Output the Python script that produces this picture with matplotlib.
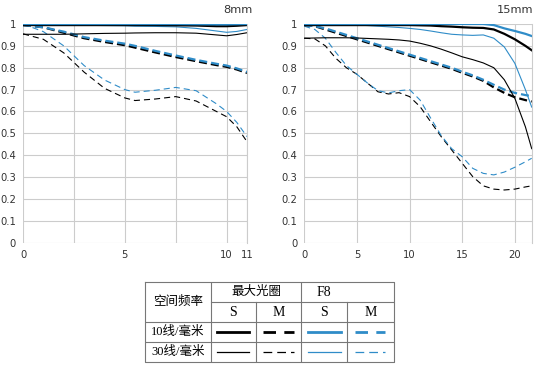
import numpy as np
import matplotlib.pyplot as plt

# MTF data, 8mm
x8 = [0, 1, 2, 3, 4, 5, 5.5, 6.5, 7.5, 8.5, 9.5, 10, 10.5, 11]
s10_max_8 = [0.995, 0.995, 0.995, 0.995, 0.995, 0.995, 0.995, 0.995, 0.994, 0.993, 0.99, 0.99, 0.992, 0.995]
s10_f8_8 = [1.0, 1.0, 1.0, 1.0, 1.0, 1.0, 1.0, 1.0, 1.0, 0.999, 0.998, 0.998, 0.999, 1.0]
s30_max_8 = [0.953, 0.953, 0.953, 0.955, 0.957, 0.958, 0.959, 0.96, 0.96, 0.958, 0.95, 0.946, 0.952, 0.96]
s30_f8_8 = [1.0, 0.998, 0.996, 0.994, 0.993, 0.992, 0.99, 0.989, 0.987, 0.98, 0.968, 0.962, 0.966, 0.975]
m10_max_8 = [0.995, 0.985, 0.96, 0.935, 0.918, 0.903, 0.892, 0.87, 0.849, 0.83, 0.812, 0.804, 0.792, 0.776]
m10_f8_8 = [0.995, 0.985, 0.965, 0.94, 0.924, 0.91, 0.9, 0.877, 0.856, 0.836, 0.818, 0.81, 0.797, 0.781]
m30_max_8 = [0.955, 0.93, 0.868, 0.78, 0.706, 0.662, 0.65, 0.657, 0.668, 0.648, 0.6, 0.576, 0.53, 0.462]
m30_f8_8 = [1.0, 0.965, 0.9, 0.81, 0.744, 0.70, 0.688, 0.697, 0.71, 0.695, 0.635, 0.60, 0.55, 0.485]

# MTF data, 15mm
x15 = [0, 1, 2, 3, 4, 5, 6, 7, 8, 9, 10, 11, 12, 13, 14, 15, 16, 17, 18, 19, 20, 21, 21.6]
s10_max_15 = [0.995, 0.995, 0.995, 0.995, 0.995, 0.995, 0.995, 0.995, 0.995, 0.995, 0.995, 0.994, 0.993,
              0.99, 0.988, 0.985, 0.983, 0.982, 0.975, 0.955, 0.93, 0.9, 0.88]
s10_f8_15 = [1.0, 1.0, 1.0, 1.0, 1.0, 1.0, 1.0, 1.0, 1.0, 1.0, 1.0, 1.0, 1.0,
             1.0, 1.0, 1.0, 1.0, 1.0, 0.995, 0.98, 0.968, 0.955, 0.945]
s30_max_15 = [0.935, 0.936, 0.937, 0.937, 0.937, 0.936, 0.934, 0.932, 0.93, 0.927, 0.922, 0.912, 0.9,
              0.885, 0.868, 0.85, 0.837, 0.822, 0.8, 0.745, 0.66, 0.53, 0.43]
s30_f8_15 = [1.0, 1.0, 0.998, 0.997, 0.996, 0.995, 0.993, 0.99, 0.987, 0.984, 0.98, 0.975, 0.968,
             0.96, 0.953, 0.95, 0.948, 0.95, 0.935, 0.895, 0.82, 0.7, 0.62]
m10_max_15 = [0.995, 0.99, 0.975, 0.96, 0.945, 0.93, 0.915, 0.9, 0.885, 0.87, 0.855, 0.84, 0.825,
              0.81, 0.795, 0.777, 0.76, 0.74, 0.71, 0.685, 0.665, 0.652, 0.645]
m10_f8_15 = [0.995, 0.99, 0.98, 0.965, 0.95, 0.935, 0.92, 0.905, 0.89, 0.875, 0.86, 0.845, 0.83,
             0.815, 0.8, 0.782, 0.765, 0.745, 0.722, 0.7, 0.685, 0.675, 0.67]
m30_max_15 = [0.935, 0.932, 0.9, 0.843, 0.8, 0.77, 0.73, 0.69, 0.68, 0.686, 0.668, 0.622, 0.553,
              0.485, 0.424, 0.363, 0.302, 0.26, 0.245, 0.241, 0.245, 0.255, 0.26]
m30_f8_15 = [0.99, 0.975, 0.935, 0.87, 0.81, 0.77, 0.73, 0.695, 0.685, 0.695, 0.70, 0.652, 0.57,
             0.49, 0.43, 0.393, 0.34, 0.317, 0.31, 0.323, 0.345, 0.37, 0.386]

BLUE = '#2f8cc8'
GRID = '#cccccc'
TXT = '#333333'

fig = plt.figure(figsize=(5.38, 3.68), dpi=100)


def draw_panel(rect, x, series, xmax, xticks, xgrid, title, title_x):
    ax = fig.add_axes(rect)
    for y, color, lw, ls in series:
        ax.plot(x, y, color=color, lw=lw, linestyle=ls)
    ax.set_xlim(0, xmax)
    ax.set_ylim(0, 1)
    ax.set_xticks(xgrid, minor=True)
    ax.set_xticks(xticks)
    ax.set_xticklabels([str(t) for t in xticks])
    ax.set_yticks(np.arange(0, 1.01, 0.1))
    ax.set_yticklabels(['0', '0.1', '0.2', '0.3', '0.4', '0.5', '0.6', '0.7', '0.8', '0.9', '1'])
    ax.grid(True, which='both', color=GRID, lw=0.8)
    ax.set_axisbelow(True)
    for sp in ax.spines.values():
        sp.set_visible(False)
    ax.spines['right'].set_visible(True)
    ax.spines['right'].set_color(GRID)
    ax.tick_params(which='both', length=0, labelsize=7.2, colors=TXT, pad=5)
    fig.text(title_x, 0.972, title, ha='right', va='center', fontsize=8.2, color=TXT)
    return ax


thick, thin = 1.6, 0.8
d_thick = (0, (3.6, 1.8))
d_thin = (0, (5.5, 3.6))

series8 = [
    (m30_max_8, 'black', thin, d_thin), (m30_f8_8, BLUE, thin, d_thin),
    (m10_max_8, 'black', thick, d_thick), (m10_f8_8, BLUE, thick, d_thick),
    (s30_max_8, 'black', thin, '-'), (s30_f8_8, BLUE, thin, '-'),
    (s10_max_8, 'black', thick, '-'), (s10_f8_8, BLUE, thick, '-'),
]
series15 = [
    (m30_max_15, 'black', thin, d_thin), (m30_f8_15, BLUE, thin, d_thin),
    (m10_max_15, 'black', thick, d_thick), (m10_f8_15, BLUE, thick, d_thick),
    (s30_max_15, 'black', thin, '-'), (s30_f8_15, BLUE, thin, '-'),
    (s10_max_15, 'black', thick, '-'), (s10_f8_15, BLUE, thick, '-'),
]

draw_panel([0.0428, 0.3405, 0.4163, 0.5943], x8, series8, 11,
           [0, 5, 10, 11], [2.5, 7.5], '8mm', 0.470)
draw_panel([0.5656, 0.3405, 0.4227, 0.5943], x15, series15, 21.6,
           [0, 5, 10, 15, 20], [], '15mm', 0.992)

# legend table, drawn in pixel coordinates
tab = fig.add_axes([145 / 538, 1 - 362 / 368, 249 / 538, 80 / 368])
tab.set_xlim(145, 394)
tab.set_ylim(362, 282)
tab.axis('off')
LC = '#777777'
tab.plot([145, 394, 394, 145, 145], [282, 282, 362, 362, 282], color=LC, lw=0.8, clip_on=False)
tab.plot([210.7, 210.7], [282, 362], color=LC, lw=0.8)
tab.plot([301.3, 301.3], [282, 362], color=LC, lw=0.8)
tab.plot([255.7, 255.7], [301.7, 362], color=LC, lw=0.8)
tab.plot([347.3, 347.3], [301.7, 362], color=LC, lw=0.8)
tab.plot([210.7, 394], [301.7, 301.7], color=LC, lw=0.8)
tab.plot([145, 394], [321.7, 321.7], color=LC, lw=0.8)
tab.plot([145, 394], [341.7, 341.7], color=LC, lw=0.8)

fam = ['Liberation Serif', 'Noto Sans CJK SC']
tfs = 9
tab.text(178, 302, '空间频率', ha='center', va='center', fontsize=tfs, family=fam)
tab.text(256, 292, '最大光圈', ha='center', va='center', fontsize=tfs, family=fam)
tab.text(324.3, 292.5, 'F8', ha='center', va='center', fontsize=tfs + 1, family=fam)
for cx, lab in zip([233.2, 278.5, 324.3, 370.6], ['S', 'M', 'S', 'M']):
    tab.text(cx, 312, lab, ha='center', va='center', fontsize=tfs + 1, family=fam)
tab.text(178, 331.7, '10线/毫米', ha='center', va='center', fontsize=tfs, family=fam)
tab.text(178, 351.7, '30线/毫米', ha='center', va='center', fontsize=tfs, family=fam)

for y, lw in [(331.7, 2.0), (351.7, 0.9)]:
    tab.plot([217, 249], [y, y], color='black', lw=lw)
    tab.plot([263, 294], [y, y], color='black', lw=lw, linestyle=(0, (4.5, 3)) if lw > 1 else (0, (7, 4)))
    tab.plot([308, 341], [y, y], color=BLUE, lw=lw)
    tab.plot([355, 385], [y, y], color=BLUE, lw=lw, linestyle=(0, (4.5, 3)) if lw > 1 else (0, (7, 4)))

fig.savefig('out.png', dpi=100)
